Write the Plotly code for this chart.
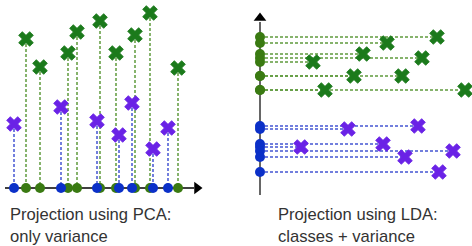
import plotly.graph_objects as go

# Left panel (PCA): projection onto horizontal axis
pca_purple_x = [1.4, 6.1, 9.7, 11.9, 13.2, 15.3, 16.8]
pca_purple_y = [6.4, 8.1, 6.7, 5.3, 8.5, 3.9, 6.0]
pca_green_x = [2.6, 4.0, 6.8, 7.7, 10.0, 11.6, 13.5, 15.0, 17.8]
pca_green_y = [14.9, 12.1, 13.5, 15.6, 16.7, 13.5, 15.3, 17.5, 12.0]

# Right panel (LDA): projection onto vertical axis
lda_green_x = [17.7, 12.7, 10.3, 16.2, 5.3, 9.4, 14.2, 6.5, 20.5]
lda_green_y = [15.8, 15.2, 14.1, 13.7, 13.3, 11.9, 11.9, 10.5, 10.5]
lda_purple_x = [15.8, 8.8, 12.3, 4.1, 19.3, 14.5, 17.9]
lda_purple_y = [6.9, 6.6, 5.1, 4.8, 4.4, 3.8, 2.3]

captions = ["Projection using PCA:<br>only variance",
            "Projection using LDA:<br>classes + variance"]

PURPLE = "#6a22e6"
GREEN_X = "#1b7a1b"
BLUE_DOT = "#0b30c8"
GREEN_DOT = "#3a7a12"
BLUE_DASH = "#4455d2"
GREEN_DASH = "#5f9a3c"
FONT = "Liberation Sans, Arial, sans-serif"

fig = go.Figure()


def vlines(xs, ys):
    lx, ly = [], []
    for x, y in zip(xs, ys):
        lx += [x, x, None]
        ly += [y, 0, None]
    return lx, ly


def hlines(xs, ys):
    lx, ly = [], []
    for x, y in zip(xs, ys):
        lx += [0, x, None]
        ly += [y, y, None]
    return lx, ly


def xmarks(xs, ys, color, xa, ya):
    return go.Scatter(x=xs, y=ys, mode="markers",
                      marker=dict(symbol="x", size=13, color=color,
                                  line=dict(color=color, width=0.8)),
                      xaxis=xa, yaxis=ya, hoverinfo="skip")


# ---- Left panel ----
fig.add_trace(go.Scatter(x=[0.5, 19.4], y=[0, 0], mode="lines",
                         line=dict(color="black", width=1.5),
                         xaxis="x", yaxis="y", hoverinfo="skip"))
fig.add_trace(go.Scatter(x=[19.7], y=[0], mode="markers",
                         marker=dict(symbol="triangle-right", size=11, color="black"),
                         xaxis="x", yaxis="y", hoverinfo="skip"))
lx, ly = vlines(pca_green_x, pca_green_y)
fig.add_trace(go.Scatter(x=lx, y=ly, mode="lines",
                         line=dict(color=GREEN_DASH, width=1.5, dash="3px,2px"),
                         xaxis="x", yaxis="y"))
lx, ly = vlines(pca_purple_x, pca_purple_y)
fig.add_trace(go.Scatter(x=lx, y=ly, mode="lines",
                         line=dict(color=BLUE_DASH, width=1.5, dash="3px,2px"),
                         xaxis="x", yaxis="y"))
fig.add_trace(go.Scatter(x=pca_green_x, y=[0] * len(pca_green_x), mode="markers",
                         marker=dict(size=10, color=GREEN_DOT),
                         xaxis="x", yaxis="y"))
fig.add_trace(go.Scatter(x=pca_purple_x, y=[0] * len(pca_purple_x), mode="markers",
                         marker=dict(size=10, color=BLUE_DOT),
                         xaxis="x", yaxis="y"))
fig.add_trace(xmarks(pca_green_x, pca_green_y, GREEN_X, "x", "y"))
fig.add_trace(xmarks(pca_purple_x, pca_purple_y, PURPLE, "x", "y"))

# ---- Right panel ----
fig.add_trace(go.Scatter(x=[0, 0], y=[0, 17.3], mode="lines",
                         line=dict(color="#333333", width=1.5),
                         xaxis="x2", yaxis="y2", hoverinfo="skip"))
fig.add_trace(go.Scatter(x=[0], y=[17.7], mode="markers",
                         marker=dict(symbol="triangle-up", size=11, color="black"),
                         xaxis="x2", yaxis="y2", hoverinfo="skip"))
lx, ly = hlines(lda_green_x, lda_green_y)
fig.add_trace(go.Scatter(x=lx, y=ly, mode="lines",
                         line=dict(color=GREEN_DASH, width=1.5, dash="3px,2px"),
                         xaxis="x2", yaxis="y2"))
lx, ly = hlines(lda_purple_x, lda_purple_y)
fig.add_trace(go.Scatter(x=lx, y=ly, mode="lines",
                         line=dict(color=BLUE_DASH, width=1.5, dash="3px,2px"),
                         xaxis="x2", yaxis="y2"))
fig.add_trace(go.Scatter(x=[0] * len(lda_green_y), y=lda_green_y, mode="markers",
                         marker=dict(size=10, color=GREEN_DOT),
                         xaxis="x2", yaxis="y2"))
fig.add_trace(go.Scatter(x=[0] * len(lda_purple_y), y=lda_purple_y, mode="markers",
                         marker=dict(size=10, color=BLUE_DOT),
                         xaxis="x2", yaxis="y2"))
fig.add_trace(xmarks(lda_green_x, lda_green_y, GREEN_X, "x2", "y2"))
fig.add_trace(xmarks(lda_purple_x, lda_purple_y, PURPLE, "x2", "y2"))

hidden = dict(visible=False, showgrid=False, zeroline=False, fixedrange=True)
fig.update_layout(
    width=472, height=246,
    margin=dict(l=0, r=0, t=0, b=0),
    paper_bgcolor="white", plot_bgcolor="white",
    showlegend=False,
    xaxis=dict(domain=[0, 0.5], range=[0, 23.6], **hidden),
    yaxis=dict(domain=[0, 1], range=[-5.8, 18.8], **hidden),
    xaxis2=dict(domain=[0.5, 1], range=[-2.4, 21.2], **hidden),
    yaxis2=dict(domain=[0, 1], range=[-5.1, 19.5], anchor="x2", **hidden),
    annotations=[
        dict(text=captions[0], xref="paper", yref="paper", x=8 / 472, y=1 - 203 / 246,
             xanchor="left", yanchor="top", align="left", showarrow=False,
             font=dict(family=FONT, size=16.6, color="#333333")),
        dict(text=captions[1], xref="paper", yref="paper", x=276 / 472, y=1 - 203 / 246,
             xanchor="left", yanchor="top", align="left", showarrow=False,
             font=dict(family=FONT, size=16.6, color="#333333")),
    ],
)
fig.write_html("out.html", config={"displayModeBar": False},
               post_script="document.body.style.margin='0';")
